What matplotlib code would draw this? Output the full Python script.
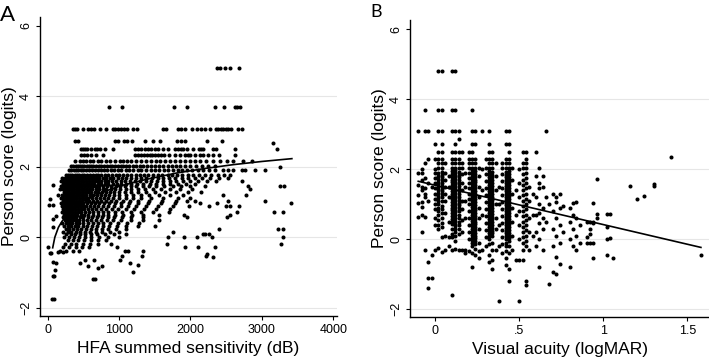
import matplotlib.pyplot as plt

plt.rcParams['font.family'] = ['Liberation Sans', 'DejaVu Sans']

# ---- panel A: HFA summed sensitivity (dB) vs person score (logits)
# points, grouped by person score level
hfa_rows = {
    4.79: [2370, 2420, 2480, 2550, 2680],
    3.69: [854, 1040, 1768, 1954, 2342, 2468, 2622, 2654, 2692],
    3.08: [354, 386, 414, 494, 564, 610, 648, 728, 820, 914, 946, 984, 1030, 1068, 1114,
           1194, 1254, 1614, 1660, 1824, 1870, 1918, 2016, 2086, 2142, 2202, 2272, 2356,
           2388, 2422, 2458, 2492, 2528, 2562, 2668, 2716],
    2.73: [386, 424, 946, 984, 1068, 1114, 1180, 1358, 1474, 1568, 1814, 1870, 1918, 2225, 2435],
    2.50: [462, 494, 518, 554, 610, 658, 694, 728, 798, 914, 1218, 1264, 1310, 1358, 1404,
           1450, 1498, 1544, 1614, 1684, 1778, 1824, 1870, 1898, 1946, 2038, 2122, 2146,
           2170, 2318, 2356, 2622, 3206],
    2.33: [462, 508, 554, 602, 680, 774, 1218, 1264, 1300, 1346, 1384, 1426, 1458, 1498,
           1544, 1580, 1634, 1704, 1778, 1848, 1918, 1968, 1990, 2062, 2132, 2170, 2248,
           2318, 2402, 2622],
    2.17: [386, 448, 494, 540, 588, 634, 704, 750, 820, 868, 938, 1008, 1054, 1114, 1170,
           1240, 1310, 1380, 1450, 1520, 1568, 1638, 1708, 1778, 1852, 1922, 1992, 2062,
           2132, 2216, 2318, 2412, 2506, 2598, 2738, 2856],
    2.02: [330, 360, 390, 420, 450, 480, 510, 545, 580, 610, 640, 680, 720, 750, 790, 830,
           870, 900, 940, 980, 1020, 1060, 1100, 1140, 1190, 1240, 1290, 1340, 1390, 1440,
           1500, 1560, 1620, 1680, 1740, 1800, 1860, 1930, 2000, 2080, 2160, 2250, 2350],
    1.90: [300, 330, 370, 400, 430, 470, 500, 540, 580, 620, 660, 700, 740, 790, 830, 880,
           930, 980, 1030, 1090, 1140, 1200, 1260, 1310, 1370, 1440, 1500, 1560, 1630, 1690,
           1750, 1820, 1880, 1950, 2020, 2100, 2180, 2260, 2350, 2450, 2530, 2590, 2716,
           2762, 2902, 3042],
    1.78: [250, 280, 310, 340, 380, 410, 440, 480, 510, 550, 590, 630, 670, 710, 750, 800,
           850, 900, 950, 1000, 1060, 1110, 1170, 1230, 1290, 1350, 1410, 1480, 1540, 1600,
           1680, 1740, 1810, 1880, 1960, 2040, 2120, 2200, 2290, 2380, 2470, 2560],
    1.68: [200, 240, 270, 300, 330, 360, 390, 420, 450, 480, 520, 560, 600, 640, 680, 720,
           770, 820, 870, 920, 980, 1040, 1100, 1160, 1230, 1300, 1380, 1460, 1540, 1620,
           1700, 1790, 1880, 1970, 2060, 2160, 2280, 2400, 2520],
    1.60: [180, 220, 250, 280, 310, 340, 370, 400, 430, 460, 500, 540, 580, 620, 660, 700,
           750, 800, 850, 900, 960, 1020, 1080, 1150, 1220, 1290, 1370, 1450, 1530, 1620,
           1710, 1800, 1890, 1990, 2100, 2230, 2360, 2716],
    1.52: [210, 240, 270, 300, 330, 360, 390, 420, 450, 490, 530, 570, 610, 650, 700, 750,
           800, 850, 910, 970, 1030, 1100, 1170, 1250, 1340, 1430, 1520, 1620, 1720, 1830,
           1940, 2060],
    1.44: [190, 230, 260, 290, 320, 350, 380, 410, 440, 470, 510, 550, 590, 630, 670, 720,
           770, 830, 890, 950, 1010, 1080, 1160, 1240, 1330, 1420, 1520, 1630, 1750, 1870,
           2000, 2200, 2810, 3252, 3308],
    1.36: [170, 210, 240, 270, 300, 330, 360, 390, 420, 460, 500, 540, 580, 620, 670, 720,
           770, 820, 880, 940, 1010, 1090, 1170, 1260, 1360, 1470, 1590, 1720, 1850, 2020,
           2832],
    1.28: [230, 260, 290, 320, 350, 380, 410, 440, 480, 520, 560, 610, 660, 710, 760, 810,
           870, 930, 1000, 1080, 1170, 1270, 1380, 1500, 1640, 1800, 1960, 2150],
    1.20: [200, 240, 270, 300, 330, 360, 390, 420, 460, 500, 540, 590, 640, 690, 740, 800,
           860, 930, 1000, 1090, 1190, 1300, 1420, 1560, 1720, 1900, 2450, 2776],
    1.12: [180, 220, 250, 280, 310, 340, 370, 400, 440, 480, 520, 570, 620, 670, 730, 790,
           850, 920, 1000, 1090, 1190, 1310, 1450, 1620, 1820, 2000],
    1.04: [210, 240, 270, 300, 330, 360, 400, 440, 480, 530, 580, 630, 690, 750, 810, 880,
           960, 1050, 1150, 1270, 1420, 1600, 1800, 1946, 2062, 2528, 3045],
    0.96: [190, 230, 260, 290, 320, 350, 380, 420, 460, 500, 550, 600, 660, 720, 790, 860,
           940, 1030, 1140, 1260, 1400, 1580, 1780, 2132, 2366, 3407],
    0.88: [200, 240, 270, 300, 330, 370, 410, 450, 490, 540, 590, 650, 710, 780, 850, 930,
           1020, 1120, 1240, 1380, 1550, 1750, 1982, 2262, 2496, 2552, 2682],
    0.80: [220, 250, 280, 310, 340, 380, 420, 460, 510, 560, 620, 680, 750, 820, 900, 990,
           1090, 1210, 1350, 1520, 1720],
    0.72: [200, 240, 270, 300, 340, 380, 420, 470, 520, 580, 640, 700, 770, 850, 940, 1040,
           1160, 1300, 1480, 1700, 2654, 3172, 3300],
    0.64: [230, 260, 290, 330, 370, 410, 460, 510, 570, 630, 700, 770, 850, 940, 1050, 1180,
           1340, 1560, 1908, 2552],
    0.56: [210, 250, 280, 320, 360, 400, 450, 500, 560, 620, 690, 760, 840, 930, 1040, 1170,
           1340, 1946, 2506],
    0.48: [240, 270, 310, 350, 390, 440, 490, 550, 610, 680, 750, 830, 920, 1030, 1160, 1330,
           1560],
    0.40: [200, 260, 300, 340, 390, 440, 500, 560, 630, 700, 780, 870, 980, 1110, 1280],
    0.32: [230, 280, 330, 380, 430, 490, 550, 620, 690, 770, 860, 970, 1100, 1260, 1500],
    0.24: [250, 300, 350, 410, 470, 530, 600, 680, 760, 850, 960, 1090, 2402, 3220, 3300],
    0.16: [220, 280, 330, 390, 450, 520, 590, 670, 760, 870, 1000, 1758],
    0.08: [260, 320, 380, 450, 520, 600, 690, 800, 930, 1100, 2170, 2206, 2262],
    0.00: [230, 300, 370, 440, 520, 610, 720, 850, 1000, 1688, 1908, 2086, 2296, 3290],
    -0.08: [280, 350, 430, 510, 600, 700, 820],
    -0.18: [240, 320, 400, 490, 590, 700, 880, 1666, 3266],
    -0.28: [210, 300, 390, 480, 580, 966, 1927, 2108, 2337],
    -0.40: [170, 260, 350, 440, 1082, 1128, 1338],
}

hfa_extra = [
    (60, -1.76), (95, -1.76), (70, -1.10), (95, -1.10), (107, -0.93), (74, -0.69),
    (116, -0.72), (4, -0.27), (32, -0.45), (51, -0.45), (148, -0.41), (218, -0.41),
    (32, 1.09), (78, 1.48), (78, 0.92), (78, 0.51), (70, 0.28), (22, 0.92), (120, 0.60),
    (140, 1.20), (640, -1.19), (665, -1.19), (452, -0.74), (522, -0.64), (568, -0.83),
    (652, -0.64), (708, -0.88), (756, -0.83), (1012, -0.64), (1036, -0.53), (1152, -0.74),
    (1190, -1.00), (1268, -0.79), (1316, -0.53), (2225, -0.48), (2318, -0.55),
    (2216, -0.53), (3150, 2.67), (3250, 1.98),
]

# fitted curve
hfa_fit_x = [70, 100, 150, 200, 300, 400, 500, 700, 1000, 1400, 1800, 2200, 2600, 3000, 3420]
hfa_fit_y = [-0.30, 0.00, 0.28, 0.45, 0.70, 0.88, 1.02, 1.22, 1.45, 1.65, 1.82, 1.95, 2.06, 2.15, 2.23]

# ---- panel B: visual acuity (logMAR) vs person score, points grouped by logMAR value
va_cols = {
    -0.10: [3.08, 1.88, 1.54, 1.26, 1.02, 0.64],
    -0.08: [2.00, 1.88, 1.69, 1.50, 1.40, 1.07, 0.92, 0.69, 0.21],
    -0.06: [3.69, 3.08, 2.16, 1.75, 1.45, 1.30, 1.20, 0.64, -0.30],
    -0.04: [3.08, 2.30, 1.60, 1.10, -0.65, -1.10, -1.41],
    -0.02: [1.50, -0.46, -1.10],
    0.00: [2.73, 2.30, 2.00, 1.88, 1.75, 1.60, 1.45, 1.30, 1.15, 1.00, 0.85, 0.60, 0.40, -0.30],
    0.02: [4.79, 3.69, 3.08, 2.50, 2.30, 2.16, 2.03, 1.90, 1.80, 1.72, 1.64, 1.56, 1.48,
           1.40, 1.32, 1.24, 1.16, 1.08, 1.00, 0.90, 0.80, 0.70, 0.55, 0.40, 0.30, -0.25],
    0.04: [4.79, 3.69, 3.08, 2.73, 2.50, 2.30, 2.16, 2.03, 1.92, 1.84, 1.76, 1.68, 1.60,
           1.52, 1.44, 1.36, 1.28, 1.20, 1.10, 0.95, 0.85, 0.75, 0.60, 0.45, 0.35, 0.05, -0.38],
    0.06: [2.16, 1.90, 1.70, 1.50, 1.30, 1.10, 0.75, 0.10, -0.30],
    0.08: [1.80, 1.50, 1.20, 0.50, 0.05, -0.20],
    0.10: [4.79, 3.69, 3.08, 2.50, 2.30, 2.16, 2.03, 1.94, 1.86, 1.78, 1.70, 1.62, 1.54,
           1.46, 1.38, 1.30, 1.22, 1.14, 1.06, 0.98, 0.90, 0.82, 0.74, 0.66, 0.58, 0.50,
           0.42, 0.30, 0.15, 0.05, -0.30, -1.60],
    0.12: [4.79, 3.69, 3.08, 2.73, 2.50, 2.30, 2.16, 2.03, 1.96, 1.88, 1.80, 1.72, 1.64,
           1.56, 1.48, 1.40, 1.32, 1.24, 1.16, 1.08, 1.00, 0.92, 0.84, 0.76, 0.68, 0.60,
           0.52, 0.44, 0.36, 0.28, 0.20, 0.10, -0.05, -0.28],
    0.14: [3.08, 2.87, 2.50, 2.30, 2.16, 2.03, 1.92, 1.84, 1.76, 1.68, 1.60, 1.52, 1.44,
           1.36, 1.28, 1.20, 1.12, 1.04, 0.96, 0.88, 0.80, 0.70, 0.60, 0.50, 0.40, 0.30,
           0.15, -0.30],
    0.16: [2.50, 2.16, 2.03, 1.85, 1.60, 1.40, 1.10, 0.85, 0.55, 0.20, -0.32],
    0.18: [1.90, 1.50, 1.10, 0.60, -0.30, -0.40],
    0.20: [2.50, 2.30, 2.16, 2.03, 1.90, 1.75, 1.60, 1.45, 1.30, 1.15, 1.00, 0.80, 0.60,
           0.40, 0.20, 0.00, -0.35],
    0.22: [3.69, 3.08, 2.73, 2.50, 2.30, 2.16, 2.03, 1.96, 1.88, 1.80, 1.72, 1.64, 1.56,
           1.48, 1.40, 1.32, 1.24, 1.16, 1.08, 1.00, 0.92, 0.84, 0.76, 0.68, 0.60, 0.52,
           0.44, 0.36, 0.28, 0.20, 0.12, 0.04, -0.04, -0.12, -0.20, -0.40, -0.80],
    0.24: [3.08, 2.73, 2.30, 2.16, 2.03, 1.94, 1.86, 1.78, 1.70, 1.62, 1.54, 1.46, 1.38,
           1.30, 1.22, 1.14, 1.06, 0.98, 0.90, 0.82, 0.74, 0.66, 0.58, 0.50, 0.42, 0.34,
           0.26, 0.18, 0.10, 0.02, -0.06, -0.15, -0.28, -0.45],
    0.26: [2.03, 1.80, 1.50, 1.20, 0.90, 0.60, 0.30, -0.10, -0.35, -0.55],
    0.28: [3.08, 2.00, 1.40, 0.70, -0.30],
    0.30: [2.30, 2.03, 1.85, 1.65, 1.45, 1.25, 1.05, 0.85, 0.65, 0.45, 0.25, 0.05, -0.20],
    0.32: [3.08, 2.73, 2.50, 2.30, 2.16, 2.03, 1.94, 1.86, 1.78, 1.70, 1.62, 1.54, 1.46,
           1.38, 1.30, 1.22, 1.14, 1.06, 0.98, 0.90, 0.82, 0.74, 0.66, 0.58, 0.50, 0.42,
           0.34, 0.26, 0.18, 0.10, 0.00, -0.15, -0.45, -0.65],
    0.34: [2.50, 2.30, 2.16, 2.03, 1.92, 1.84, 1.76, 1.68, 1.60, 1.52, 1.44, 1.36, 1.28,
           1.20, 1.12, 1.04, 0.96, 0.88, 0.80, 0.72, 0.64, 0.56, 0.48, 0.40, 0.32, 0.24,
           0.16, 0.08, -0.10, -0.30, -0.60, -0.85],
    0.36: [2.16, 1.80, 1.40, 1.00, 0.60, 0.30, -0.30],
    0.38: [1.50, 1.00, 0.40, -0.20, -1.77],
    0.40: [2.16, 2.03, 1.85, 1.65, 1.45, 1.25, 1.05, 0.85, 0.65, 0.45, 0.25, 0.05, -0.15, -0.40],
    0.42: [3.08, 2.73, 2.30, 2.16, 2.03, 1.92, 1.84, 1.76, 1.68, 1.60, 1.52, 1.44, 1.36,
           1.28, 1.20, 1.12, 1.04, 0.96, 0.88, 0.80, 0.72, 0.64, 0.56, 0.48, 0.40, 0.32,
           0.24, 0.16, 0.08, 0.00, -0.10, -0.20, -0.35, -0.55, -0.75],
    0.44: [3.08, 2.73, 2.50, 2.30, 2.16, 2.03, 1.94, 1.86, 1.78, 1.70, 1.62, 1.54, 1.46,
           1.38, 1.30, 1.22, 1.14, 1.06, 0.98, 0.90, 0.82, 0.74, 0.66, 0.58, 0.50, 0.42,
           0.34, 0.26, 0.18, 0.10, 0.02, -0.06, -0.20, -0.40, -0.85, -1.20],
    0.46: [2.03, 1.70, 1.30, 0.90, 0.50, 0.10, -0.30],
    0.48: [1.40, 0.70, -0.60],
    0.50: [2.00, 1.60, 1.20, 0.80, 0.40, 0.00, -0.60, -1.77],
    0.52: [2.50, 2.16, 2.03, 1.85, 1.70, 1.55, 1.40, 1.25, 1.10, 0.95, 0.80, 0.65, 0.50,
           0.35, 0.20, 0.05, -0.10, -0.30, -0.60],
    0.54: [2.50, 2.30, 2.16, 2.03, 1.90, 1.75, 1.60, 1.45, 1.30, 1.15, 1.00, 0.85, 0.70,
           0.55, 0.40, 0.25, 0.10, -0.05, -0.20, -1.20, -1.30],
    0.56: [1.50, 1.10, 0.60, 0.20, -0.30],
    0.58: [1.30, 0.70, 0.10],
    0.60: [2.50, 1.80, 1.20, 0.70, 0.20, -0.20],
    0.62: [2.03, 1.60, 1.45, 1.00, 0.75, 0.45, 0.00, -0.80],
    0.64: [1.80, 1.50, 0.90, 0.60, 0.30, -0.30],
    0.66: [3.08, 1.20, 0.50],
    0.68: [1.00, -1.29],
    0.70: [1.30, 0.80, 0.30, -0.20, -0.95],
    0.72: [1.20, 1.05, 0.60, 0.10, -0.50, -1.00],
    0.74: [1.30, 0.90, 0.40, -0.10, -0.70],
    0.76: [0.95, 0.20],
    0.80: [0.90, 0.50, 0.00, -0.80],
    0.82: [1.02, 0.70, 0.30, -0.20],
    0.84: [1.07, 0.60, 0.10, -0.30],
    0.86: [0.40, -0.10],
    0.90: [0.50, 0.05, -0.12],
    0.92: [0.49, 0.28, 0.14, -0.12],
    0.94: [1.04, 0.49, 0.45, -0.12, -0.53],
    0.96: [1.71, 0.71, 0.59],
    1.02: [0.71, 0.35, 0.00, -0.46],
    1.04: [0.71, 0.02],
    1.06: [-0.53],
}

va_extra = [(1.16, 1.51), (1.20, 1.13), (1.24, 1.23), (1.30, 1.57), (1.30, 1.51),
            (1.40, 2.35), (1.58, -0.46)]

va_fit_x = [-0.10, 1.58]
va_fit_y = [1.65, -0.24]

score_ticks = [-2, 0, 2, 4, 6]
hfa_ticks = [0, 1000, 2000, 3000, 4000]
va_ticks = [0, 0.5, 1, 1.5]
va_tick_labels = ['0', '.5', '1', '1.5']


def style_axis(ax):
    for side in ('top', 'right'):
        ax.spines[side].set_visible(False)
    ax.spines['left'].set_linewidth(1.0)
    ax.spines['bottom'].set_linewidth(1.0)
    for g in score_ticks[:-1]:
        ax.axhline(g, color='#e6e6e6', lw=0.8, zorder=0)
    ax.set_yticks(score_ticks)
    ax.tick_params(axis='both', direction='out', length=3.2, width=0.8,
                   labelsize=9, pad=2.5)
    for lab in ax.get_yticklabels():
        lab.set_rotation(90)
        lab.set_va('center')
    ax.set_ylabel('Person score (logits)', fontsize=12.5, labelpad=2)


fig = plt.figure(figsize=(7.09, 3.57), dpi=100)

# panel A
axA = fig.add_axes([0.0564, 0.1148, 0.4189, 0.8376])
ax_x = [x for y, xs in hfa_rows.items() for x in xs] + [p[0] for p in hfa_extra]
ax_y = [y for y, xs in hfa_rows.items() for x in xs] + [p[1] for p in hfa_extra]
axA.scatter(ax_x, ax_y, s=8.5, c='black', linewidths=0, zorder=2)
axA.plot(hfa_fit_x, hfa_fit_y, color='black', lw=1.2, zorder=3)
axA.set_xlim(-108, 4052)
axA.set_ylim(-2.236, 6.25)
axA.set_xticks(hfa_ticks)
style_axis(axA)
axA.set_xlabel('HFA summed sensitivity (dB)', fontsize=12.5, labelpad=4)

# panel B
axB = fig.add_axes([0.5783, 0.1129, 0.4217, 0.8311])
bx = [x for x, ys in va_cols.items() for y in ys] + [p[0] for p in va_extra]
by = [y for x, ys in va_cols.items() for y in ys] + [p[1] for p in va_extra]
axB.scatter(bx, by, s=8.5, c='black', linewidths=0, zorder=2)
axB.plot(va_fit_x, va_fit_y, color='black', lw=1.2, zorder=3)
axB.set_xlim(-0.149, 1.628)
axB.set_ylim(-2.22, 6.26)
axB.set_xticks(va_ticks)
axB.set_xticklabels(va_tick_labels)
style_axis(axB)
axB.set_xlabel('Visual acuity (logMAR)', fontsize=12.5, labelpad=4)

fig.text(0.0, 0.941, 'A', fontsize=16, family=['Lato', 'DejaVu Sans'])
fig.text(0.522, 0.952, 'B', fontsize=13, family=['Lato', 'DejaVu Sans'])

fig.savefig('out.png', dpi=100)
